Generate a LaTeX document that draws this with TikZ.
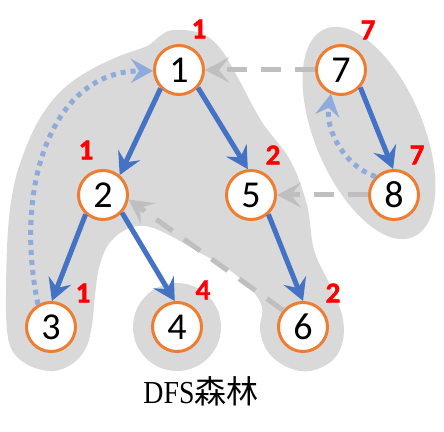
\documentclass[tikz,border=0pt]{standalone}
\usepackage{fontspec}
\usepackage{tikz}
\usetikzlibrary{arrows.meta}
\newfontfamily\numfont{Carlito}
\newfontfamily\lowfont[FakeBold=1.5]{Carlito Bold}
\newfontfamily\dfsfont[FakeStretch=0.87]{Liberation Serif}
\newfontfamily\cjk{Noto Sans CJK SC}
\definecolor{blobgray}{HTML}{D9D9D9}
\definecolor{ringorange}{HTML}{ED7D31}
\definecolor{treeblue}{HTML}{4472C4}
\definecolor{backblue}{HTML}{8FAADC}
\definecolor{crossgray}{HTML}{BFBFBF}

\begin{document}
\begin{tikzpicture}[x=1pt,y=1pt,
  vert/.style={circle,draw=ringorange,line width=3pt,fill=white,minimum size=49pt,inner sep=0pt,font=\numfont\fontsize{38}{38}\selectfont},
  lowlbl/.style={text=red,inner sep=0pt,font=\lowfont\fontsize{29}{29}\selectfont},
  tree/.style={draw=treeblue,line width=5pt,-{Stealth[length=22pt,width=24pt,inset=8pt]}},
  cross/.style={draw=crossgray,line width=5pt,dash pattern=on 20pt off 14pt,-{Stealth[length=24pt,width=25pt,inset=10pt]}},
  back/.style={draw=backblue,line width=5pt,dash pattern=on 5pt off 5pt,-{Stealth[length=22pt,width=24pt,inset=8pt]}}]
  \useasboundingbox (0,0) rectangle (444,431);
  % shaded trees of the forest
  \fill[blobgray] plot[smooth cycle, tension=0.6] coordinates {(173,401) (200,398) (220,383) (238,353) (262,309) (290,271) (307,226) (314,181) (330,146) (342,116) (343,91) (333,71) (310,60) (287,64) (268,79) (260,101) (262,124) (250,143) (228,162) (197,180) (167,197) (145,205) (125,201) (108,186) (99,163) (95,136) (92,106) (86,83) (72,67) (53,60) (30,65) (13,79) (7,101) (6,141) (8,201) (14,246) (25,281) (40,313) (60,339) (85,358) (117,374) (147,385) (160,395)};
  \fill[blobgray] (177,104) circle (44);
  \fill[blobgray, rotate around={-67:(369,298)}] (369,298) ellipse [x radius=113, y radius=54];

  \node[vert] (n1) at (179,361) {1};
  \node[vert] (n2) at (103,236) {2};
  \node[vert] (n5) at (251,236) {5};
  \node[vert] (n7) at (341,361) {7};
  \node[vert] (n8) at (394,236) {8};
  \node[vert] (n3) at (51,104) {3};
  \node[vert] (n4) at (177,104) {4};
  \node[vert] (n6) at (303,104) {6};

  \node[lowlbl] (l1) at (199,402) {1};
  \node[lowlbl] (l2) at (86,281) {1};
  \node[lowlbl] (l5) at (273,276) {2};
  \node[lowlbl] (l7) at (368,401) {7};
  \node[lowlbl] (l8) at (417,276) {7};
  \node[lowlbl] (l3) at (83,138) {1};
  \node[lowlbl] (l4) at (203,141) {4};
  \node[lowlbl] (l6) at (333,138) {2};

  \draw[tree] (n1.225) -- (n2.50);
  \draw[tree] (n1.-43) -- (n5.97);
  \draw[tree] (n2.228) -- (n3.88);
  \draw[tree] (n2.-43) -- (n4.95);
  \draw[tree] (n5.-48) -- (n6.90);
  \draw[tree] (n7.-42) -- (n8.92);

  \draw[cross] (n7.west) -- (n1.east);
  \draw[cross] (n8.west) -- (n5.east);
  \draw[cross] (n6.140) -- (n2.-10);

  \draw[back] (n3.120) .. controls +(-25,120) and +(-100,0) .. (n1.182);
  \draw[back] (n8.135) .. controls +(-30,10) and +(-6,-37) .. (n7.247);

  \node (cap) at (201,40) {\fontsize{32}{32}\selectfont\dfsfont DFS\cjk 森林};
\end{tikzpicture}
\end{document}
